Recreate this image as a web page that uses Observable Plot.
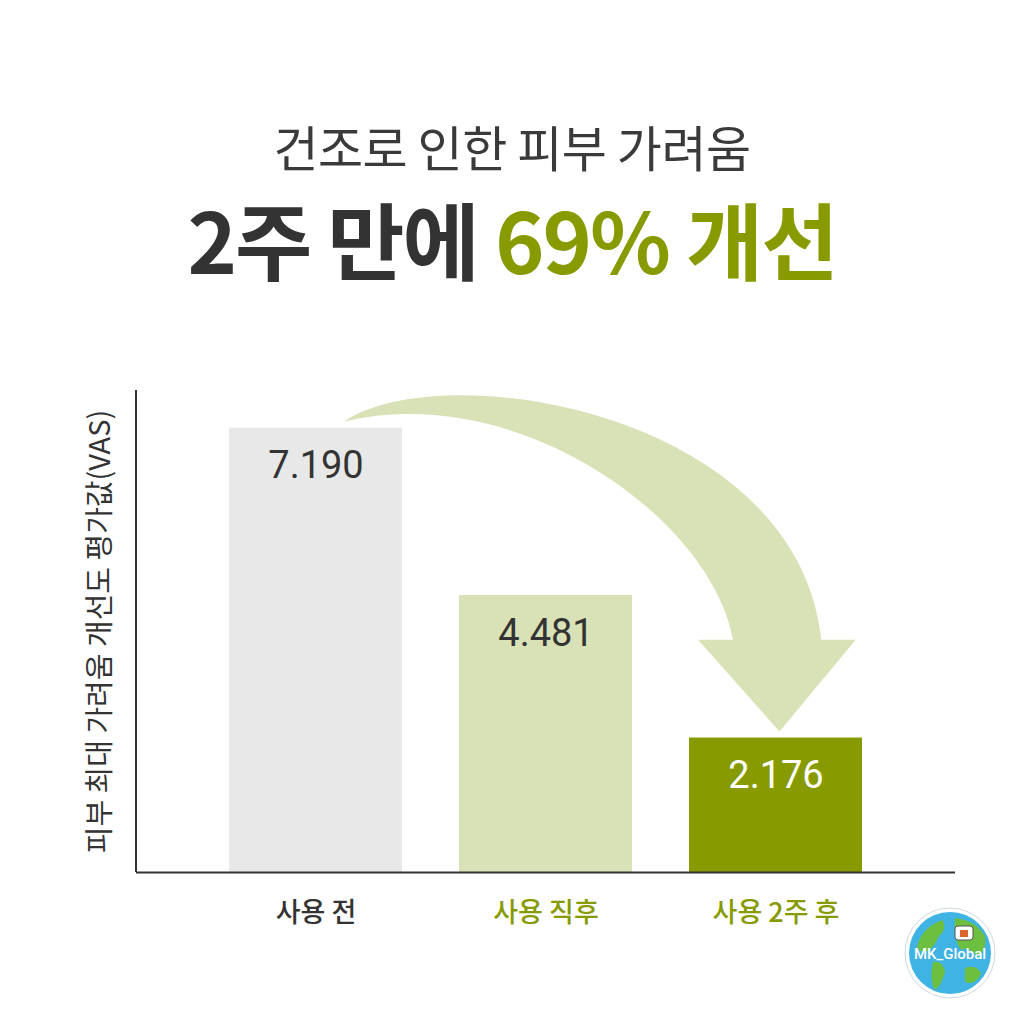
<!DOCTYPE html>
<html><head><meta charset="utf-8">
<script src="https://cdn.jsdelivr.net/npm/d3@7"></script>
<script src="https://cdn.jsdelivr.net/npm/@observablehq/plot@0.6"></script>
<style>
body{margin:0;background:#fff;width:1024px;height:1024px;position:relative;overflow:hidden;font-family:"Noto Sans CJK KR","Noto Sans",sans-serif;}
#t1{position:absolute;top:116px;left:0;width:1024px;text-align:center;font-size:49px;font-weight:400;color:#3a3a3a;line-height:60px;letter-spacing:-0.5px;}
#t2{position:absolute;top:191px;left:0;width:1024px;text-align:center;font-size:84px;font-weight:700;color:#333;line-height:94px;letter-spacing:-2px;}
#t2 .hl{color:#879a00;}
#chart{position:absolute;top:370px;left:0;}
#logo{position:absolute;left:903px;top:906px;}
</style></head>
<body>
<div id="t1">건조로 인한 피부 가려움</div>
<div id="t2">2주 만에 <span class="hl">69% 개선</span></div>
<div id="chart"></div>
<svg id="logo" width="94" height="94" viewBox="0 0 94 94">
  <circle cx="47" cy="47" r="45" fill="#fff" stroke="#cfd8dc" stroke-width="1"/>
  <circle cx="47" cy="47" r="41" fill="#3fb3e3"/>
  <path d="M14 40 Q20 20 40 14 Q44 24 36 30 Q30 44 22 46 Q16 46 14 40Z" fill="#6cbf3f"/>
  <path d="M30 56 Q40 54 42 66 Q38 80 32 84 Q26 74 30 56Z" fill="#6cbf3f"/>
  <path d="M52 12 Q72 14 82 30 Q84 46 74 50 Q66 40 58 44 Q50 34 52 12Z" fill="#6cbf3f"/>
  <path d="M62 62 Q74 58 78 68 Q72 80 62 76Z" fill="#6cbf3f"/>
  <rect x="52" y="20" width="18" height="14" rx="3" fill="#fff" stroke="#555" stroke-width="1"/>
  <rect x="57" y="24" width="8" height="7" fill="#d9652b"/>
  <text x="47" y="53" text-anchor="middle" font-family="Roboto, sans-serif" font-size="15" font-weight="500" fill="#fff">MK_Global</text>
</svg>
<script>
const categories = ["사용 전", "사용 직후", "사용 2주 후"];
const values = [7.190, 4.481, 2.176];
const valueLabels = ["7.190", "4.481", "2.176"];
const yTitle = "피부 최대 가려움 개선도 평가값(VAS)";
const yMax = 7.8;

const barFill = ["#e8e8e8", "#d9e1b6", "#879a00"];
const valueFill = ["#333333", "#333333", "#ffffff"];
const catFill = ["#333333", "#879a00", "#879a00"];

const data = categories.map((c, i) => ({cat: c, value: values[i], label: valueLabels[i], i}));

const chart = Plot.plot({
  width: 1024,
  height: 580,
  marginTop: 20,
  marginBottom: 78,
  marginLeft: 136,
  marginRight: 69,
  style: {fontFamily: "'Noto Sans CJK KR', sans-serif", background: "transparent"},
  x: {domain: categories, paddingInner: 0.25, paddingOuter: 0.40, axis: null},
  y: {domain: [0, yMax], axis: null},
  color: {type: "identity"},
  marks: [
    Plot.barY(data, {x: "cat", y: "value", fill: d => barFill[d.i]}),
    Plot.text(data, {x: "cat", y: "value", text: "label", dy: 38, fill: d => valueFill[d.i],
      fontSize: 38, fontFamily: "Roboto, sans-serif"}),
    Plot.text(data, {x: "cat", y: 0, text: "cat", dy: 41, fill: d => catFill[d.i],
      fontSize: 27, fontWeight: 500}),
    Plot.text([yTitle], {text: d => d, frameAnchor: "left", textAnchor: "middle", dx: -36, rotate: -90,
      fontSize: 29, fill: "#333"}),
    Plot.ruleY([0], {stroke: "#333", strokeWidth: 2})
  ]
});
document.getElementById("chart").appendChild(chart);

// decorations drawn through the chart's own scales
const sx = chart.scale("x"), sy = chart.scale("y");
const bw = sx.bandwidth;
const svg = d3.select(chart);
// y axis line
svg.append("line")
  .attr("x1", sx.range[0]).attr("x2", sx.range[0])
  .attr("y1", sy.apply(yMax)).attr("y2", sy.apply(0))
  .attr("stroke", "#333").attr("stroke-width", 2);

// curved arrow from bar 1 to bar 3
const S = [sx.apply(categories[0]) + bw * 0.665, sy.apply(values[0]) - 6];
const T = [sx.apply(categories[2]) + bw / 2 + 4, sy.apply(values[2]) - 6];
const dx = T[0] - S[0], dy = T[1] - S[1];
const P = (u, v) => [S[0] + u * dx, S[1] + v * dy];
const p = d3.path();
p.moveTo(...S);
p.bezierCurveTo(...P(0.219, -0.215), ...P(1.039, -0.039), ...P(1.096, 0.704));
p.lineTo(...P(1.175, 0.704));
p.lineTo(...T);
p.lineTo(...P(0.813, 0.704));
p.lineTo(...P(0.893, 0.704));
p.bezierCurveTo(...P(0.845, 0.315), ...P(0.401, -0.135), ...S);
p.closePath();
svg.insert("path", ":first-child").attr("d", p.toString()).attr("fill", "#d9e1b6");
</script>
</body></html>
